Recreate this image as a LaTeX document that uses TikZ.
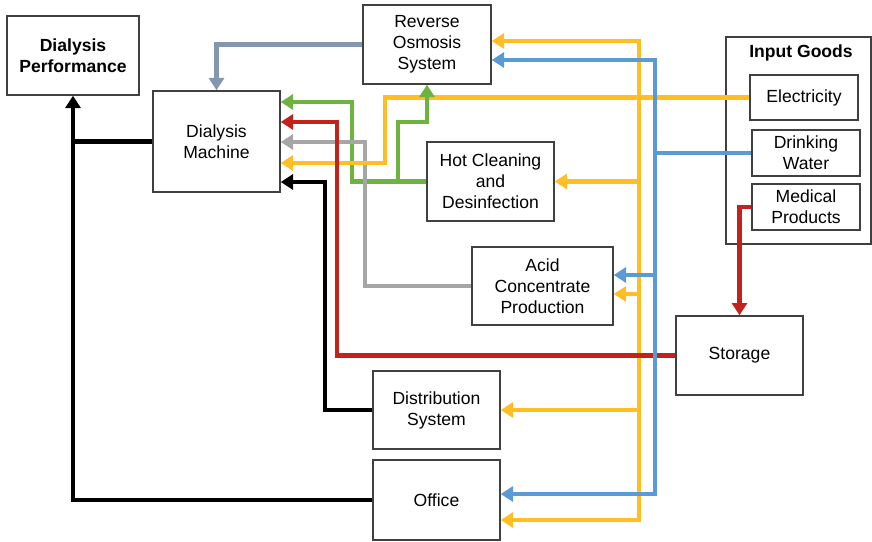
\documentclass[tikz,border=0pt]{standalone}
\usepackage{fontspec}
\setmainfont{Liberation Sans}
\usetikzlibrary{arrows.meta}
\definecolor{dlyellow}{HTML}{FFBF24}
\definecolor{dlblue}{HTML}{5B9BD5}
\definecolor{dlred}{HTML}{C3221C}
\definecolor{dlgreen}{HTML}{6DB33F}
\definecolor{dlgray}{HTML}{A6A6A6}
\definecolor{dlslate}{HTML}{8497B0}
\definecolor{dlframe}{HTML}{404040}
\newdimen\px \px=0.02cm

\begin{document}
\begin{tikzpicture}[x=0.02cm, y=-0.02cm, >={Triangle[width=8.5pt,length=7pt]},
  box/.style={draw=dlframe, line width=0.8pt, fill=white, align=center, inner sep=2pt},
  flow/.style={line width=2.6pt}]
  \useasboundingbox (0,0) rectangle (872,541);
  % units and stations
  \node[box, font=\bfseries, minimum width=132\px, minimum height=79\px] (perf) at (73,55.5) {Dialysis\\Performance};
  \node[box, minimum width=127\px, minimum height=101\px] (machine) at (216.5,141.5) {Dialysis\\Machine};
  \node[box, minimum width=128\px, minimum height=79\px] (ro) at (427,44.5) {Reverse\\Osmosis\\System};
  \node[box, minimum width=127\px, minimum height=79\px] (hot) at (490.5,181.5) {Hot Cleaning\\and\\Desinfection};
  \node[box, minimum width=141\px, minimum height=78\px] (acid) at (542.5,286) {Acid\\Concentrate\\Production};
  \node[box, minimum width=127\px, minimum height=78\px] (distr) at (436.5,410) {Distribution\\System};
  \node[box, minimum width=127\px, minimum height=80\px] (office) at (436.5,500) {Office};
  \node[box, minimum width=127\px, minimum height=79\px] (storage) at (739.5,355.5) {Storage};
  % input goods group
  \node[draw=dlframe, line width=0.8pt, minimum width=145\px, minimum height=207\px] (goods) at (798.5,140.5) {};
  \node[font=\bfseries] (goodstitle) at (801,53) {Input Goods};
  \node[box, minimum width=108\px, minimum height=45\px] (elec) at (804,97.5) {Electricity};
  \node[box, minimum width=108\px, minimum height=46\px] (water) at (806,153) {Drinking\\Water};
  \node[box, minimum width=108\px, minimum height=46\px] (med) at (806,207) {Medical\\Products};
  % trunk points
  \coordinate (ytop) at (639,41);
  \coordinate (ybot) at (639,520);
  \coordinate (ya) at (639,294);
  \coordinate (btop) at (655,60);
  \coordinate (bbot) at (655,494);
  \coordinate (ba) at (655,275);
  % results
  \draw[flow,->] (office.west) -| (perf.south);
  \draw[flow] (machine.west) -- (machine.west -| perf.south);
  \draw[flow,dlslate,->] (ro.west) -| (machine.north);
  % supplies into the machine
  \foreach \src/\bx/\by/\col in {distr/325/182/black, hot/352/102/dlgreen, acid/365/142/dlgray}{
    \draw[flow,\col,->] (\src.west) -| (\bx,\by) coordinate (t) -- (t -| machine.east);
  }
  % electricity
  \draw[flow,dlyellow,<->] (ybot -| office.east) -- (ybot) -- (ytop) -- (ytop -| ro.east);
  \draw[flow,dlyellow,->] (elec.west) -| (385,163) coordinate (t) -- (t -| machine.east);
  \foreach \n in {hot,distr}{ \draw[flow,dlyellow,->] (\n.east -| ytop) -- (\n.east); }
  \draw[flow,dlyellow,->] (ya) -- (ya -| acid.east);
  \draw[flow,dlgreen,->] (hot.west) -| (398,122) -| (ro.south);
  % medical products
  \draw[flow,dlred,->] (storage.west) -| (337,122) coordinate (t) -- (t -| machine.east);
  \draw[flow,dlred,->] (med.west) -| (storage.north);
  % drinking water
  \draw[flow,dlblue,<->] (bbot -| office.east) -- (bbot) -- (btop) -- (btop -| ro.east);
  \draw[flow,dlblue] (water.west) -- (water.west -| btop);
  \draw[flow,dlblue,->] (ba) -- (ba -| acid.east);
\end{tikzpicture}
\end{document}
